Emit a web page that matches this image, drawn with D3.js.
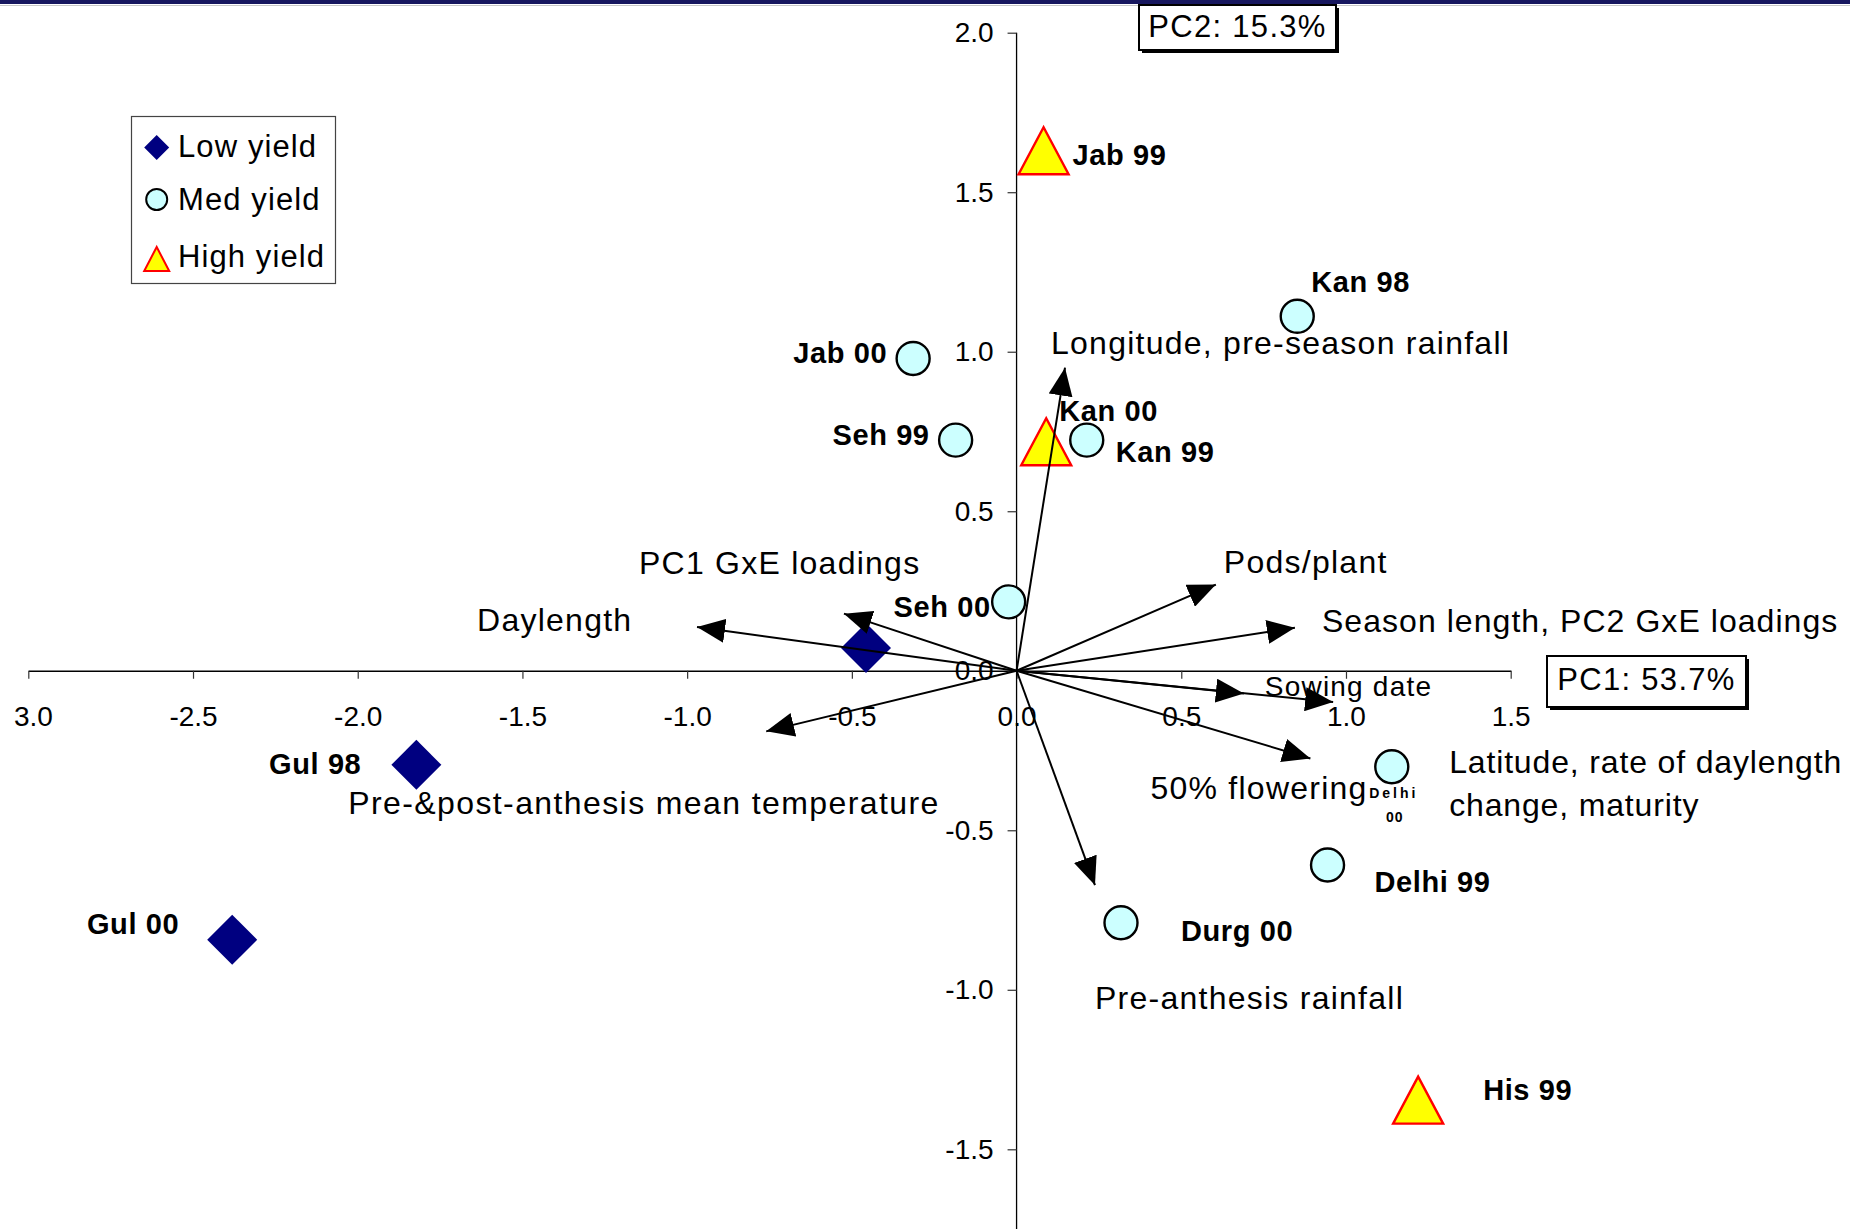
<!DOCTYPE html>
<html>
<head>
<meta charset="utf-8">
<script src="https://cdn.jsdelivr.net/npm/d3@7"></script>
<style>
  html, body { margin: 0; padding: 0; background: #fff; }
  svg { display: block; font-family: "Liberation Sans", Arial, Helvetica, sans-serif; }
</style>
</head>
<body>
<svg id="chart" width="1850" height="1229"></svg>
<script>
// Site-year scores on the first two principal components
const siteNames  = ["Jab 99", "Kan 98", "Jab 00", "Seh 99", "Kan 00", "Kan 99", "Seh 00", "", "Gul 98", "Gul 00", "Delhi 00", "Delhi 99", "Durg 00", "His 99"];
const yieldClass = ["High", "Med", "Med", "Med", "High", "Med", "Med", "Low", "Low", "Low", "Med", "Med", "Med", "High"];
const pc1Score   = [0.082, 0.852, -0.314, -0.185, 0.090, 0.213, -0.024, -0.457, -1.822, -2.381, 1.139, 0.944, 0.317, 1.219];
const pc2Score   = [1.630, 1.111, 0.979, 0.723, 0.718, 0.723, 0.216, 0.071, -0.295, -0.843, -0.301, -0.609, -0.790, -1.346];

// Environmental variables drawn as loading vectors from the origin
const vectorNames = [
  "Longitude, pre-season rainfall",
  "PC1 GxE loadings",
  "Daylength",
  "Pre-&post-anthesis mean temperature",
  "Pods/plant",
  "Season length, PC2 GxE loadings",
  "Sowing date",
  "Latitude, rate of daylength change, maturity",
  "50% flowering",
  "Pre-anthesis rainfall"
];
const vectorPC1 = [0.147, -0.524, -0.970, -0.760, 0.605, 0.845, 0.690, 0.961, 0.892, 0.238];
const vectorPC2 = [0.950, 0.179, 0.137, -0.190, 0.270, 0.135, -0.071, -0.098, -0.275, -0.672];

const xTickValues  = [-3.0, -2.5, -2.0, -1.5, -1.0, -0.5, 0.0, 0.5, 1.0, 1.5];
const yTickValues  = [-1.5, -1.0, -0.5, 0.0, 0.5, 1.0, 1.5, 2.0];
const legendLabels = ["Low yield", "Med yield", "High yield"];
const legendClass  = ["Low", "Med", "High"];
const pc1Title = "PC1: 53.7%";
const pc2Title = "PC2: 15.3%";

// ---- layout ----
const W = 1850, H = 1229;
const x = d3.scaleLinear().domain([-3, 1.5]).range([28.3, 1510.7]);
const y = d3.scaleLinear().domain([-1.5, 2]).range([1149.3, 32.7]);
const fmt = d => d.toFixed(1);

// label placement for site points: [dx, dy, anchor] relative to the marker centre
const siteLabelLayout = {
  "Jab 99":   [29, 14.5, "start"],
  "Kan 98":   [14, -24.5, "start"],
  "Jab 00":   [-26, 5, "end"],
  "Seh 99":   [-26, 5, "end"],
  "Kan 00":   [13, -21, "start"],
  "Kan 99":   [29, 22, "start"],
  "Seh 00":   [-18, 15, "end"],
  "Gul 98":   [-55, 9.5, "end"],
  "Gul 00":   [-53, -6, "end"],
  "Delhi 99": [47, 27, "start"],
  "Durg 00":  [60, 18, "start"],
  "His 99":   [65, 0, "start"]
};

// label placement for loading vectors: [dx, dy] from the arrow tip, one entry per text line
const vectorLabelLayout = [
  [[-14, -13.5]],
  [[-205, -40]],
  [[-220, 4]],
  [[-418, 83]],
  [[8, -12]],
  [[27, 4]],
  [[21, 3]],
  [[116, 71], [116, 114]],
  [[-160, 41]],
  [[0, 124]]
];
// font size and letter spacing of each vector label
const vectorLabelStyle = [
  [32, 1.25], [32, 1.25], [32, 1.25], [32, 1.4], [32, 1.25],
  [32, 1.05], [28, 1.2], [32, 0.85], [32, 1.25], [32, 1.25]
];
const vectorLabelLines = [
  ["Longitude, pre-season rainfall"],
  ["PC1 GxE loadings"],
  ["Daylength"],
  ["Pre-&post-anthesis mean temperature"],
  ["Pods/plant"],
  ["Season length, PC2 GxE loadings"],
  ["Sowing date"],
  ["Latitude, rate of daylength", "change, maturity"],
  ["50% flowering"],
  ["Pre-anthesis rainfall"]
];

const svg = d3.select("#chart");
svg.append("rect").attr("width", W).attr("height", H).attr("fill", "#fff");

// slide header band
svg.append("rect").attr("x", 0).attr("y", 0).attr("width", W).attr("height", 4).attr("fill", "#17175f");
svg.append("line").attr("x1", 0).attr("x2", W).attr("y1", 5.5).attr("y2", 5.5).attr("stroke", "#c8c8c8").attr("stroke-width", 1);

const defs = svg.append("defs");
defs.append("clipPath").attr("id", "plotClip")
  .append("rect").attr("x", 14).attr("y", 7).attr("width", W - 14).attr("height", H - 7);
defs.append("marker")
  .attr("id", "arrowHead")
  .attr("markerUnits", "userSpaceOnUse")
  .attr("viewBox", "-28 -12 28 24")
  .attr("refX", 0).attr("refY", 0)
  .attr("markerWidth", 28).attr("markerHeight", 24)
  .attr("orient", "auto")
  .append("path").attr("d", "M0,0 L-28,-12 L-28,12 Z").attr("fill", "#000");

const plot = svg.append("g").attr("clip-path", "url(#plotClip)");

// x axis through y = 0
const xAxis = plot.append("g")
  .attr("transform", `translate(0,${y(0)})`)
  .call(d3.axisBottom(x).tickValues(xTickValues).tickFormat(fmt).tickSize(8).tickSizeOuter(0).tickPadding(27));
// y axis through x = 0
const yAxis = plot.append("g")
  .attr("transform", `translate(${x(0)},0)`)
  .call(d3.axisLeft(y).tickValues(yTickValues).tickFormat(fmt).tickSize(9).tickSizeOuter(0).tickPadding(14));

[xAxis, yAxis].forEach(g => {
  g.selectAll("path.domain").attr("stroke", "#000").attr("stroke-width", 1.3);
  g.selectAll(".tick line").attr("stroke", "#333").attr("stroke-width", 1.2);
  g.selectAll(".tick text").attr("fill", "#000").attr("font-size", 28)
    .attr("font-family", '"Liberation Sans", Arial, sans-serif');
});
// the vertical axis runs on to the foot of the slide
yAxis.select("path.domain").attr("d", `M0,${y(2)}V${y(-2)}`);

// marker shapes; legend swatches use their own sizes
const markerSize = {
  plot:   { diamond: 25, circle: 16.5, triW: 25, triH: 23.5, stroke: 2.4 },
  legend: { diamond: 12.5, circle: 10.5, triW: 12.5, triH: 12, stroke: 2 }
};
function drawMarker(sel, cls, sz) {
  if (cls === "Low") {
    const s = sz.diamond;
    sel.append("path").attr("d", `M0,${-s}L${s},0L0,${s}L${-s},0Z`).attr("fill", "#000080");
  } else if (cls === "Med") {
    sel.append("circle").attr("r", sz.circle).attr("fill", "#ccffff")
      .attr("stroke", "#000").attr("stroke-width", sz.stroke);
  } else {
    const w = sz.triW, h = sz.triH;
    sel.append("path").attr("d", `M0,${-h}L${w},${h}L${-w},${h}Z`).attr("fill", "#ffff00")
      .attr("stroke", "#ff0000").attr("stroke-width", sz.stroke).attr("stroke-linejoin", "miter");
  }
}

const sites = siteNames.map((name, i) => ({ name, cls: yieldClass[i], px: pc1Score[i], py: pc2Score[i] }));

const pointG = plot.append("g");
sites.forEach(d => {
  const g = pointG.append("g").attr("transform", `translate(${x(d.px)},${y(d.py)})`);
  drawMarker(g, d.cls, markerSize.plot);
});

// loading vectors
const vectors = vectorNames.map((name, i) => ({
  name, vx: vectorPC1[i], vy: vectorPC2[i],
  lines: vectorLabelLines[i], pos: vectorLabelLayout[i], style: vectorLabelStyle[i]
}));
plot.append("g").selectAll("line").data(vectors).join("line")
  .attr("x1", x(0)).attr("y1", y(0))
  .attr("x2", d => x(d.vx)).attr("y2", d => y(d.vy))
  .attr("stroke", "#000").attr("stroke-width", 2)
  .attr("marker-end", "url(#arrowHead)");

// vector labels
const vecLabelG = plot.append("g").attr("fill", "#000");
vectors.forEach(d => {
  d.lines.forEach((line, k) => {
    vecLabelG.append("text")
      .attr("x", x(d.vx) + d.pos[k][0])
      .attr("y", y(d.vy) + d.pos[k][1])
      .attr("font-size", d.style[0])
      .attr("letter-spacing", d.style[1])
      .text(line);
  });
});

// site labels
const siteLabelG = plot.append("g").attr("font-weight", "bold").attr("font-size", 29).attr("fill", "#000");
sites.forEach(d => {
  const lay = siteLabelLayout[d.name];
  if (!lay) return;
  siteLabelG.append("text")
    .attr("x", x(d.px) + lay[0]).attr("y", y(d.py) + lay[1])
    .attr("text-anchor", lay[2]).attr("letter-spacing", 0.6).text(d.name);
});
// the Delhi 00 label is squeezed under its marker in two small lines
const delhi00 = sites.find(d => d.name === "Delhi 00");
const dParts = delhi00.name.split(" ");
siteLabelG.append("text").attr("x", x(delhi00.px) + 2).attr("y", y(delhi00.py) + 31)
  .attr("text-anchor", "middle").attr("font-size", 14).attr("letter-spacing", 3).text(dParts[0]);
siteLabelG.append("text").attr("x", x(delhi00.px) + 3).attr("y", y(delhi00.py) + 55)
  .attr("text-anchor", "middle").attr("font-size", 14).attr("letter-spacing", 1).text(dParts[1]);

// axis title boxes with a drop shadow
function titleBox(bx, by, bw, bh, label, baseline) {
  const g = svg.append("g");
  g.append("rect").attr("x", bx + 3).attr("y", by + 3).attr("width", bw).attr("height", bh).attr("fill", "#000");
  g.append("rect").attr("x", bx).attr("y", by).attr("width", bw).attr("height", bh)
    .attr("fill", "#fff").attr("stroke", "#000").attr("stroke-width", 2);
  g.append("text").attr("x", bx + bw / 2).attr("y", baseline).attr("text-anchor", "middle")
    .attr("font-size", 31).attr("letter-spacing", 1.3).attr("fill", "#000").text(label);
}
titleBox(1139, 5, 197, 45, pc2Title, 37);
titleBox(1547, 656, 199, 51, pc1Title, 690);

// legend
const lg = svg.append("g");
lg.append("rect").attr("x", 131.5).attr("y", 116.5).attr("width", 204).attr("height", 167)
  .attr("fill", "#fff").attr("stroke", "#444").attr("stroke-width", 1.2);
const legendRowY = [147.5, 199.5, 259];
const legendBase = [157, 210, 267];
legendLabels.forEach((label, i) => {
  const m = lg.append("g").attr("transform", `translate(156.7,${legendRowY[i]})`);
  drawMarker(m, legendClass[i], markerSize.legend);
  lg.append("text").attr("x", 178).attr("y", legendBase[i]).attr("font-size", 31)
    .attr("letter-spacing", 1.1).attr("fill", "#000").text(label);
});
</script>
</body>
</html>
